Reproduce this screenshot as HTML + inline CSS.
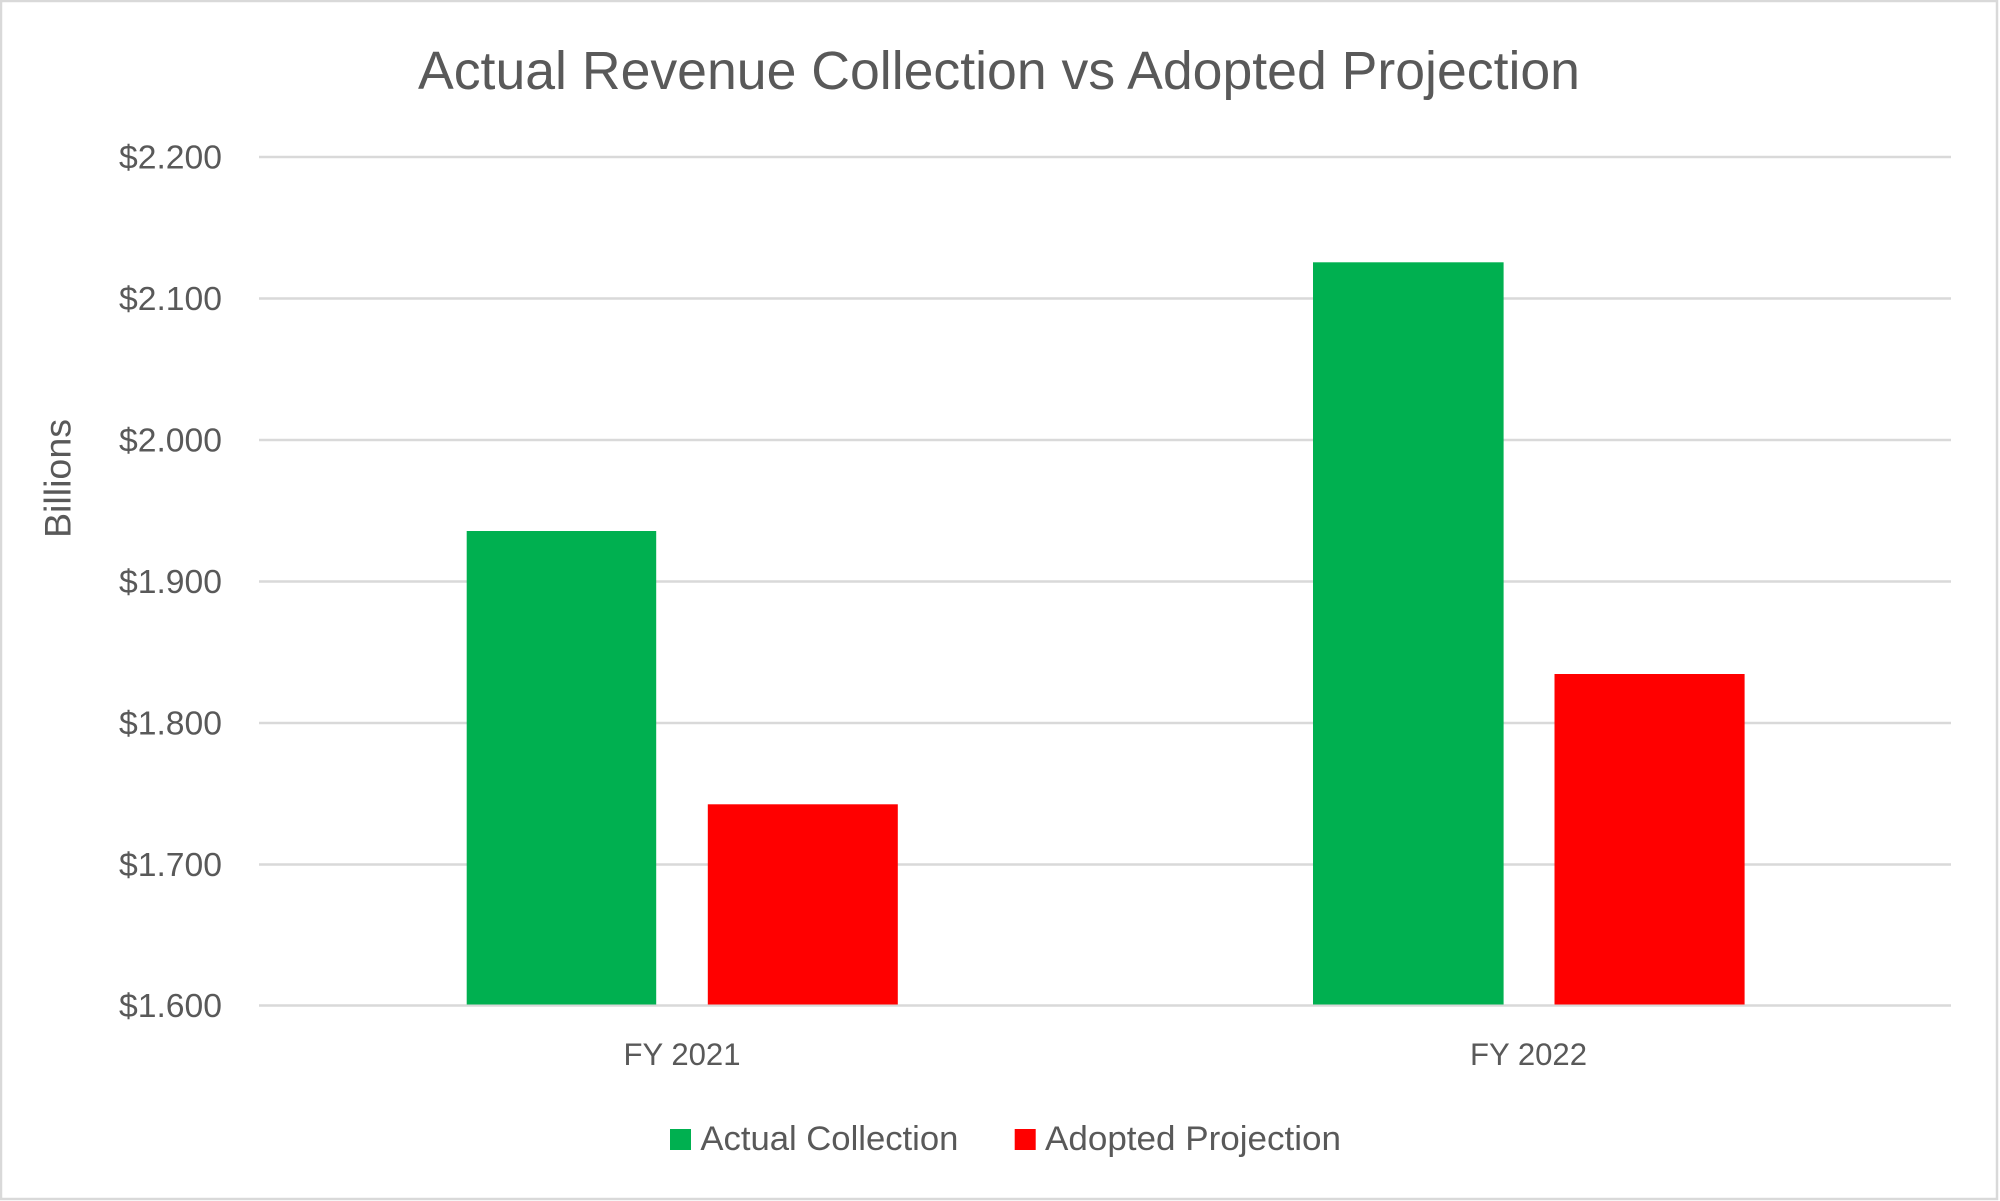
<!DOCTYPE html>
<html>
<head>
<meta charset="utf-8">
<style>
  html, body { margin: 0; padding: 0; background: #ffffff; }
  svg { display: block; }
  text { font-family: "Liberation Sans", "DejaVu Sans", sans-serif; fill: #595959; }
</style>
</head>
<body>
<svg width="2000" height="1201" viewBox="0 0 2000 1201" xmlns="http://www.w3.org/2000/svg">
  <rect x="0" y="0" width="2000" height="1201" fill="#ffffff"/>
  <rect x="1" y="1" width="1996" height="1198" fill="none" stroke="#d9d9d9" stroke-width="2.5"/>

  <!-- Title -->
  <text x="418" y="89" font-size="53.5" textLength="1162" lengthAdjust="spacingAndGlyphs">Actual Revenue Collection vs Adopted Projection</text>

  <!-- Gridlines -->
  <g stroke="#d9d9d9" stroke-width="2.6">
    <line x1="259" y1="157" x2="1951" y2="157"/>
    <line x1="259" y1="298.5" x2="1951" y2="298.5"/>
    <line x1="259" y1="440" x2="1951" y2="440"/>
    <line x1="259" y1="581.5" x2="1951" y2="581.5"/>
    <line x1="259" y1="723" x2="1951" y2="723"/>
    <line x1="259" y1="864.5" x2="1951" y2="864.5"/>
    <line x1="259" y1="1005.5" x2="1951" y2="1005.5"/>
  </g>

  <!-- Y tick labels -->
  <g font-size="33" text-anchor="end">
    <text x="222" y="168.5" textLength="103" lengthAdjust="spacingAndGlyphs">$2.200</text>
    <text x="222" y="310" textLength="103" lengthAdjust="spacingAndGlyphs">$2.100</text>
    <text x="222" y="451.5" textLength="103" lengthAdjust="spacingAndGlyphs">$2.000</text>
    <text x="222" y="593" textLength="103" lengthAdjust="spacingAndGlyphs">$1.900</text>
    <text x="222" y="734.5" textLength="103" lengthAdjust="spacingAndGlyphs">$1.800</text>
    <text x="222" y="876" textLength="103" lengthAdjust="spacingAndGlyphs">$1.700</text>
    <text x="222" y="1017" textLength="103" lengthAdjust="spacingAndGlyphs">$1.600</text>
  </g>

  <!-- Axis title -->
  <text transform="translate(70.5,478.5) rotate(-90)" x="0" y="0" font-size="37.5" text-anchor="middle" textLength="119" lengthAdjust="spacingAndGlyphs">Billions</text>

  <!-- Bars -->
  <rect x="466.7" y="531" width="189.5" height="473.5" fill="#00B050"/>
  <rect x="707.8" y="804.3" width="190" height="200.2" fill="#FF0000"/>
  <rect x="1313" y="262.3" width="190.6" height="742.2" fill="#00B050"/>
  <rect x="1554.5" y="674" width="190.1" height="330.5" fill="#FF0000"/>

  <!-- X labels -->
  <g font-size="31.5" text-anchor="middle">
    <text x="682" y="1065" textLength="117" lengthAdjust="spacingAndGlyphs">FY 2021</text>
    <text x="1528.5" y="1065" textLength="117" lengthAdjust="spacingAndGlyphs">FY 2022</text>
  </g>

  <!-- Legend -->
  <rect x="670" y="1129" width="21" height="21" fill="#00B050"/>
  <text x="700.4" y="1150" font-size="34.6" textLength="258" lengthAdjust="spacingAndGlyphs">Actual Collection</text>
  <rect x="1014.7" y="1129" width="21" height="21" fill="#FF0000"/>
  <text x="1045" y="1150" font-size="34.6" textLength="296" lengthAdjust="spacingAndGlyphs">Adopted Projection</text>
</svg>
</body>
</html>
